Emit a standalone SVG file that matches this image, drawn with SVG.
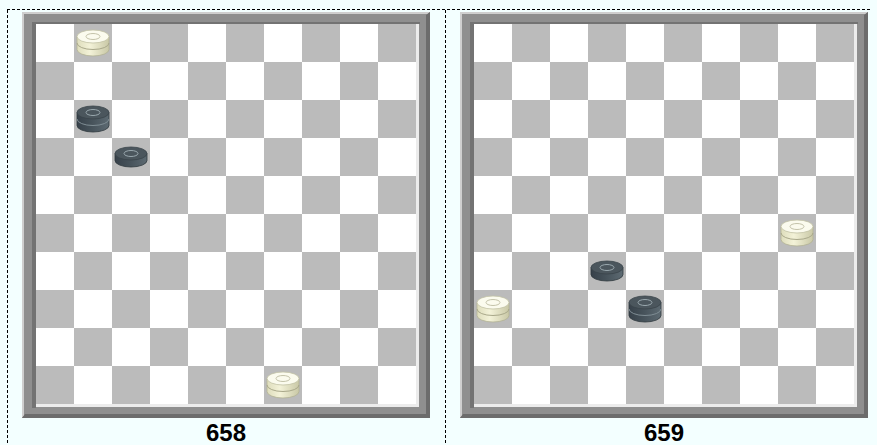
<svg xmlns="http://www.w3.org/2000/svg" width="877" height="445" viewBox="0 0 877 445">
<style>
.dash{stroke:#000;stroke-width:1;stroke-dasharray:3 2;fill:none}
.lbl{font-family:"Liberation Sans",Arial,sans-serif;font-weight:bold;font-size:24px;fill:#000;text-anchor:middle}
.frame{fill:#8f8f8f}
.hiOut{fill:#cfcfcf}
.shOut{fill:#6c6c6c}
.shIn{fill:#737373}
.hiIn{fill:#ececec}
</style>
<defs>
<pattern id="chkL" x="36" y="24" width="76" height="76" patternUnits="userSpaceOnUse">
<rect width="76" height="76" fill="#ffffff"/>
<rect x="38" y="0" width="38" height="38" fill="#bbbbbb"/>
<rect x="0" y="38" width="38" height="38" fill="#bbbbbb"/>
</pattern>
<pattern id="chkR" x="474" y="24" width="76" height="76" patternUnits="userSpaceOnUse">
<rect width="76" height="76" fill="#ffffff"/>
<rect x="38" y="0" width="38" height="38" fill="#bbbbbb"/>
<rect x="0" y="38" width="38" height="38" fill="#bbbbbb"/>
</pattern>
<linearGradient id="wBody" x1="0" y1="0" x2="1" y2="0">
<stop offset="0" stop-color="#deddbc"/>
<stop offset="0.4" stop-color="#f3f2d8"/>
<stop offset="1" stop-color="#c9c8a6"/>
</linearGradient>
<linearGradient id="dBody" x1="0" y1="0" x2="1" y2="0">
<stop offset="0" stop-color="#37414a"/>
<stop offset="0.45" stop-color="#46525a"/>
<stop offset="1" stop-color="#5d6a72"/>
</linearGradient>
<g id="wKing">
<path d="M-16,-6.5 L-16,6.5 A16,6.5 0 0 0 16,6.5 L16,-6.5 Z" fill="url(#wBody)" stroke="#b3b294" stroke-width="0.8"/>
<path d="M-16,0 A16,6.5 0 0 0 16,0" fill="none" stroke="#a9a88a" stroke-width="1"/>
<ellipse cx="0" cy="-6.5" rx="16" ry="6.5" fill="#fbfbee" stroke="#c2c1a4" stroke-width="0.8"/>
<ellipse cx="0" cy="-6.5" rx="7" ry="3" fill="none" stroke="#c4c3aa" stroke-width="1"/>
</g>
<g id="dKing">
<path d="M-16,-6.5 L-16,6.5 A16,6.5 0 0 0 16,6.5 L16,-6.5 Z" fill="url(#dBody)" stroke="#2f383e" stroke-width="0.8"/>
<path d="M-16,0 A16,6.5 0 0 0 16,0" fill="none" stroke="#7f8d94" stroke-width="1"/>
<ellipse cx="0" cy="-6.5" rx="16" ry="6.5" fill="#4b565d" stroke="#3a444a" stroke-width="0.8"/>
<ellipse cx="0" cy="-6.5" rx="7" ry="3" fill="none" stroke="#9aa8ae" stroke-width="1"/>
</g>
<g id="dSingle">
<path d="M-16,-3.5 L-16,3.5 A16,6.5 0 0 0 16,3.5 L16,-3.5 Z" fill="url(#dBody)" stroke="#2f383e" stroke-width="0.8"/>
<ellipse cx="0" cy="-3.5" rx="16" ry="6.5" fill="#4b565d" stroke="#3a444a" stroke-width="0.8"/>
<ellipse cx="0" cy="-3.5" rx="7" ry="3" fill="none" stroke="#9aa8ae" stroke-width="1"/>
</g>
</defs>
<rect width="877" height="445" fill="#f3ffff"/>
<g id="borders">
<path class="dash" d="M7,9.5 H870"/>
<path class="dash" d="M7.5,10 V445"/>
<path class="dash" d="M445.5,10 V445"/>
</g>
<g id="board658">
<rect class="frame" x="22" y="12" width="408" height="406"/>
<path class="hiOut" d="M22,12 H430 L428,14 H24 V416 L22,418 Z"/>
<path class="shOut" d="M430,12 V418 H22 L25,414 H426 V15 Z"/>
<path class="shIn" d="M32,22 H420 V24 H36 V408 H32 Z"/>
<path class="hiIn" d="M416,24 H419 V407 H36 V404 H416 Z"/>
<rect x="36" y="24" width="380" height="380" fill="url(#chkL)"/>
</g>
<g id="board659">
<rect class="frame" x="460" y="12" width="408" height="406"/>
<path class="hiOut" d="M460,12 H868 L866,14 H462 V416 L460,418 Z"/>
<path class="shOut" d="M868,12 V418 H460 L463,414 H864 V15 Z"/>
<path class="shIn" d="M470,22 H858 V24 H474 V408 H470 Z"/>
<path class="hiIn" d="M854,24 H857 V407 H474 V404 H854 Z"/>
<rect x="474" y="24" width="380" height="380" fill="url(#chkR)"/>
</g>
<g id="pieces658">
<use href="#wKing" x="93" y="43"/>
<use href="#dKing" x="93" y="119"/>
<use href="#dSingle" x="131" y="157"/>
<use href="#wKing" x="283" y="385"/>
</g>
<g id="pieces659">
<use href="#wKing" x="797" y="233"/>
<use href="#dSingle" x="607" y="271"/>
<use href="#dKing" x="645" y="309"/>
<use href="#wKing" x="493" y="309"/>
</g>
<g id="labels">
<text class="lbl" x="226" y="441">658</text>
<text class="lbl" x="664" y="441">659</text>
</g>
</svg>
